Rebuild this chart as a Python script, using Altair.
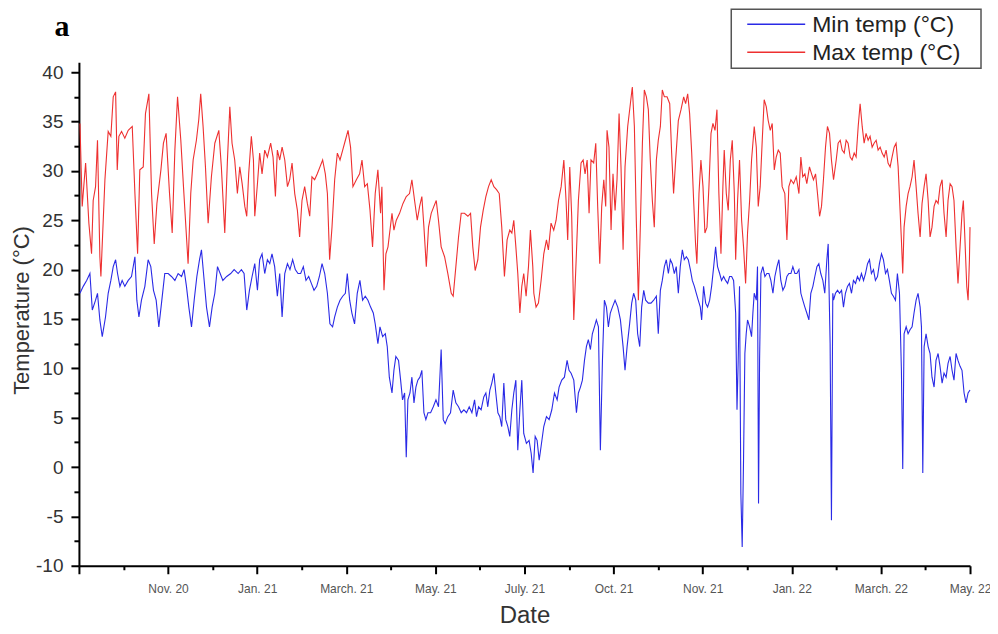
import altair as alt
import pandas as pd

# ---- data (day index 0..600, temperature in °C) ----
max_day = [0.7, 2.2, 4.5, 6.7, 8.5, 9.6, 11.2, 12.5, 14.1, 14.8, 17.5, 19.7, 21.5, 23.1, 24.7, 25.8, 26.9, 28.7, 30.9, 33.2,
           35.9, 37.7, 39.5, 41.0, 43.3, 44.8, 47.1, 48.9, 50.7, 52.5, 55.2, 56.9, 58.7, 61.0, 62.8, 64.6, 66.4, 68.6, 70.4, 73.5,
           75.3, 76.9, 79.1, 80.7, 82.0, 83.6, 85.2, 87.0, 89.2, 91.5, 94.2, 95.9, 98.2, 100.0, 101.6,
           103.1, 104.9, 106.7, 108.3, 109.9, 111.7, 113.0, 114.3, 116.1, 117.5, 118.4, 120.2, 121.7, 123.3, 125.1, 126.9, 129.1,
           130.7, 132.3, 133.6, 135.2, 136.8, 138.6, 140.4, 141.9, 143.5, 145.3, 147.1, 148.6, 150.2, 152.0, 153.8, 155.4, 156.9,
           158.7, 160.5, 162.3, 164.1, 165.9, 167.3, 168.8, 170.4, 172.2, 174.0, 175.8, 177.6, 179.4, 181.2, 182.9, 184.5, 186.8,
           189.0, 190.6, 192.4, 194.2, 196.0, 197.7, 199.5, 201.3,
           203.1, 204.0, 205.4, 206.7, 208.1, 209.2, 210.8, 212.1, 213.7, 215.9, 218.2, 220.4, 222.6, 224.2, 226.0, 227.8, 229.4,
           230.9, 232.3, 233.9, 235.4, 237.2, 239.0, 240.6, 242.1, 243.9, 246.2, 248.4, 250.7, 252.0, 253.8, 255.6, 257.4, 259.6,
           261.9, 263.7, 265.2, 266.8, 268.6, 270.4, 272.2, 274.0, 275.8, 277.6, 279.4, 281.2, 283.0, 284.7, 286.5, 288.3, 290.1,
           291.5, 292.8, 294.2, 295.5, 296.9, 298.2, 299.5, 301.1, 302.7, 304.0, 305.6,
           306.3, 307.8, 309.4, 311.2, 313.0, 314.8, 316.1, 317.9, 319.7, 321.3, 322.9, 324.7, 326.5, 328.0, 329.1, 330.5, 331.8,
           333.2, 334.8, 336.3, 338.1, 339.5, 340.8, 342.2, 343.5, 344.8, 346.6, 348.0, 349.3, 350.7, 352.0, 353.4, 354.7, 355.6,
           356.9, 358.3, 359.6, 361.0, 362.3, 363.7, 365.0, 366.4, 367.7, 369.5, 371.3, 372.6, 374.0, 375.3, 376.7, 378.0, 379.4,
           380.7, 382.1, 383.4, 384.7, 386.1, 387.4, 388.8, 390.1, 391.5, 392.8, 394.2, 396.0, 397.8, 399.1, 400.4, 401.8, 403.6,
           405.4,
           407.2, 408.5, 409.9, 411.2, 412.6, 413.9, 415.2, 416.1, 417.5, 418.8, 420.2, 421.5, 422.9, 424.2, 425.6, 426.9, 428.3,
           429.6, 430.9, 432.3, 433.6, 434.5, 435.9, 437.2, 438.6, 439.9, 441.3, 442.2, 443.5, 444.8, 446.2, 447.5, 448.9, 450.2,
           451.6, 452.9, 454.7, 456.1, 457.4, 458.7, 460.1, 461.4, 462.8, 464.1, 465.5, 466.8, 468.2, 469.5, 470.9, 472.2, 473.5,
           475.3, 476.7, 478.0, 479.4, 481.2, 483.0, 484.8, 486.1, 487.4, 488.8, 490.1, 491.9, 493.3, 494.6, 496.0, 497.3, 498.7,
           500.0, 501.3, 502.7, 504.0, 505.4, 506.7, 508.1,
           509.9, 511.2, 512.6, 513.9, 515.3, 516.6, 517.9, 519.3, 520.6, 522.0, 523.3, 524.7, 526.0, 527.4, 528.7, 530.0, 531.4,
           532.7, 534.1, 535.4, 536.8, 538.1, 539.5, 540.8, 542.2, 543.5, 544.8, 546.2, 547.5, 548.9, 550.2, 551.6, 552.9, 553.8,
           554.7, 555.6, 557.0, 558.3, 559.6, 561.0, 562.3, 563.7, 565.0, 566.4, 567.7, 569.1, 570.4, 571.8, 573.1, 574.4, 575.8,
           577.1, 578.5, 579.8, 581.2, 582.5, 583.9, 585.2, 586.6, 587.9, 589.2, 590.6, 591.9, 593.3, 594.6, 595.5, 596.4, 597.8,
           598.7, 599.6, 600.0]
max_temp = [34.8, 26.4, 30.8, 24.7, 21.6, 27.0, 28.4, 33.1, 21.3, 19.3, 29.1, 34.0, 33.5, 37.5, 38.0, 30.1, 33.5, 34.0, 33.3, 34.1,
            34.5, 27.7, 21.6, 30.1, 30.4, 35.8, 37.8, 27.7, 22.6, 26.7, 30.1, 32.8, 33.8, 27.7, 23.7, 32.1, 37.5, 33.1, 28.4, 20.6,
            27.7, 31.1, 33.1, 35.2, 37.8, 34.5, 30.4, 24.7, 29.4, 32.8, 34.1, 30.4, 23.7, 31.1, 36.5,
            32.8, 31.1, 27.7, 30.4, 28.7, 26.4, 25.4, 29.7, 33.5, 31.1, 25.4, 28.7, 31.8, 29.7, 32.1, 31.4, 32.8,
            31.4, 27.4, 32.1, 31.1, 32.4, 31.1, 28.4, 29.1, 30.8, 27.7, 26.0, 23.3, 27.0, 28.4, 26.7, 25.4, 29.4,
            29.1, 29.7, 30.4, 31.1, 29.7, 27.7, 21.0, 24.3, 29.1, 31.8, 31.1, 32.1, 33.1, 34.1, 32.4, 28.4, 29.1,
            29.7, 31.1, 28.4, 28.7, 26.0, 22.3, 27.7, 30.1,
            25.7, 28.4, 17.9, 21.6, 22.3, 23.7, 25.7, 24.0, 25.0, 25.7, 26.7, 27.4, 27.7, 29.1, 27.0, 25.0, 26.4,
            27.4, 24.3, 20.3, 24.3, 25.7, 26.4, 27.0, 25.0, 22.3, 21.3, 19.6, 17.6, 17.3, 20.3, 23.3, 25.7, 25.7,
            25.4, 25.7, 22.3, 19.9, 21.0, 24.3, 26.0, 27.4, 28.4, 29.1, 28.4, 28.1, 27.7, 24.3, 19.3, 23.0, 24.0,
            23.7, 25.0, 22.3, 19.6, 15.6, 18.3, 19.6, 17.3, 20.3, 24.0, 20.3,
            17.6, 16.2, 16.6, 18.9, 21.6, 23.0, 22.0, 24.7, 24.0, 25.0, 27.0, 28.4, 31.1, 27.0, 23.0, 30.4, 25.4,
            14.9, 21.0, 27.0, 30.8, 31.1, 29.7, 31.1, 25.7, 31.1, 30.8, 32.8, 26.4, 20.6, 26.4, 29.1, 26.4, 34.1,
            32.4, 24.0, 29.7, 26.0, 29.1, 35.8, 30.4, 22.0, 30.4, 34.5, 36.8, 38.5, 34.5, 25.0, 16.9, 24.3, 32.8,
            38.2, 37.5, 36.2, 31.1, 27.0, 24.3, 31.1, 33.1, 34.5, 38.2, 37.5, 37.5, 36.8, 31.8, 27.7, 31.1, 35.1,
            36.2,
            37.5, 36.8, 37.8, 35.8, 31.8, 27.0, 22.6, 20.6, 27.7, 31.1, 28.4, 23.7, 24.3, 28.4, 33.8, 34.8, 34.1,
            36.2, 27.7, 21.6, 28.4, 32.1, 27.7, 26.0, 31.1, 33.1, 27.7, 21.0, 27.0, 31.1, 25.0, 22.3, 18.6, 23.7,
            27.0, 31.1, 34.5, 32.4, 26.4, 28.4, 33.1, 37.2, 36.5, 35.1, 34.1, 34.8, 30.1, 31.4, 32.1, 31.8, 28.4,
            27.7, 23.0, 28.4, 29.1, 28.7, 29.4, 27.7, 31.4, 29.4, 29.7, 28.7, 30.4, 29.7, 29.1, 29.7, 27.7, 25.4,
            26.4, 29.1, 32.4, 34.5, 33.8, 31.1, 29.1,
            31.1, 32.8, 33.1, 32.1, 31.8, 33.1, 32.8, 31.4, 31.1, 31.8, 31.4, 34.5, 36.8, 34.5, 32.8, 33.8, 33.1,
            33.5, 32.4, 32.8, 33.1, 32.1, 32.4, 31.8, 31.4, 32.1, 30.8, 30.4, 31.4, 32.4, 32.8, 30.4, 26.0, 23.0,
            19.6, 24.3, 26.4, 27.7, 28.4, 29.4, 31.1, 28.4, 25.7, 23.3, 26.7, 28.4, 29.7, 27.0, 23.3, 24.3, 26.4,
            27.0, 26.7, 28.4, 29.1, 25.7, 23.3, 27.0, 28.7, 28.4, 27.0, 22.3, 18.6, 22.3, 25.7, 27.0, 23.7, 18.3,
            16.9, 21.0, 24.3]

min_day = [0.7, 2.9, 5.2, 7.4, 9.0, 11.2, 12.5, 14.1, 15.7, 17.9, 19.7, 21.5, 23.1, 24.7, 26.0, 27.6, 29.1, 30.9, 33.2, 35.4,
           37.7, 39.0, 40.4, 42.1, 44.4, 46.6, 48.4, 50.2, 52.0, 53.8, 55.6, 57.8, 60.1, 62.3, 64.6, 66.8, 69.1, 70.8, 72.4, 74.0,
           75.8, 77.6, 79.4, 81.2, 82.5, 83.9, 85.9, 87.9, 89.7, 91.5, 93.3, 95.1, 96.9, 99.5, 102.2, 104.5,
           107.2, 109.4, 111.2, 113.0, 114.8, 116.6, 118.4, 120.2, 121.7, 123.3, 125.1, 126.9, 128.5, 130.0, 131.8, 133.6, 135.2,
           136.8, 138.6, 140.4, 142.1, 143.9, 145.7, 147.5, 149.3, 151.1, 152.9, 154.7, 156.5, 158.3, 160.1, 161.9, 163.7, 165.5,
           167.3, 169.0, 170.8, 172.2, 174.0, 175.8, 177.6, 179.4, 180.7, 182.3, 183.8, 185.6, 187.4, 189.2, 191.0, 192.8, 194.6,
           196.4, 198.2, 199.5, 201.3, 202.7, 204.5,
           206.3, 207.6, 209.0, 210.8, 212.1, 213.4, 215.2, 216.6, 217.9, 219.3, 220.4, 221.5, 222.9, 224.2, 225.6, 226.9, 228.2,
           229.6, 230.9, 232.3, 233.6, 235.0, 236.8, 238.6, 240.4, 242.1, 243.9, 245.3, 246.6, 248.4, 250.2, 252.0, 253.8, 255.6,
           257.4, 259.2, 261.0, 262.8, 264.6, 266.4, 267.7, 269.1, 270.8, 272.6, 274.0, 275.3, 276.7, 278.0, 279.4, 280.7, 282.1,
           283.4, 284.7, 286.1, 287.4, 288.8, 290.1, 291.5, 292.8, 294.2, 295.5, 296.9, 298.2, 299.5, 301.3, 303.1, 304.5, 305.8,
           307.2, 308.5, 309.9, 311.2, 313.0, 314.8, 316.6, 318.4, 320.2, 322.0, 323.3, 325.1, 326.9, 328.7, 330.0, 331.4, 333.2,
           335.0, 336.3, 337.7, 339.0, 340.4, 341.7, 343.0, 344.4, 345.7, 347.1, 348.4, 349.8, 351.1, 352.5, 353.8, 355.2, 356.5,
           357.8, 359.2, 361.0, 362.8, 364.6, 366.4, 367.7, 369.1, 370.8, 372.2, 373.5, 374.9, 376.2, 377.6, 378.9, 380.3, 381.6,
           383.4, 385.2, 387.0, 388.8, 390.1, 391.5, 392.8, 394.2, 395.5, 396.9, 398.2, 399.5, 400.9, 402.2, 403.6, 404.9,
           406.3, 407.6, 409.0, 410.3, 411.7, 413.0, 414.4, 415.7, 417.0, 418.4, 419.3, 420.6, 422.0, 423.3, 424.7, 426.0, 427.4,
           428.7, 430.0, 431.4, 432.7, 434.1, 435.4, 436.8, 438.1, 439.5, 440.8, 442.2, 443.1, 443.9, 444.8, 445.7, 446.6, 447.5,
           448.4, 449.3, 450.2, 451.6, 452.9, 453.8, 454.7, 456.1, 456.9, 457.6, 458.3, 459.2, 460.5, 461.9, 463.2, 464.6, 465.9,
           467.3, 468.6, 470.0, 471.3, 472.6, 474.0, 475.3, 476.7, 478.0, 479.4, 480.7, 482.1, 483.4, 484.8, 486.1, 487.4, 488.8,
           490.1, 491.5, 492.8, 494.2, 495.5, 496.9, 498.2, 499.5, 500.9, 502.2, 503.6, 504.5, 505.8, 506.7, 507.6,
           508.1, 509.4, 510.8, 512.1, 513.5, 514.8, 516.1, 517.5, 518.8, 520.2, 521.5, 522.9, 524.2, 525.6, 526.9, 528.3, 529.6,
           531.0, 532.3, 533.6, 535.0, 536.3, 537.7, 539.0, 540.4, 541.7, 543.1, 544.4, 545.7, 547.1, 548.4, 549.8, 551.1, 552.5,
           553.8, 554.7, 555.6, 557.0, 558.3, 559.6, 561.0, 562.3, 563.7, 565.0, 566.4, 567.3, 568.2, 569.1, 570.4, 571.8, 573.1,
           574.4, 575.8, 577.1, 578.5, 579.8, 581.2, 582.5, 583.9, 585.2, 586.6, 587.9, 589.2, 590.6, 591.9, 593.3, 594.6, 596.0,
           597.3, 598.7, 600.0]
min_temp = [17.6, 18.3, 18.9, 19.6, 15.9, 16.9, 17.6, 14.9, 13.2, 15.2, 17.6, 18.9, 20.3, 21.0, 19.6, 18.3, 18.9, 18.3, 18.9, 19.3,
            21.3, 16.9, 15.2, 16.9, 18.3, 21.0, 20.3, 17.9, 16.9, 14.2, 16.6, 19.6, 19.6, 19.3, 18.9, 19.6, 19.3, 20.0, 18.3, 16.2,
            14.2, 16.9, 19.3, 21.0, 22.0, 19.6, 16.2, 14.2, 16.2, 17.6, 20.3, 19.6, 18.9, 19.3, 19.6, 20.0,
            19.6, 20.0, 19.6, 15.9, 17.9, 19.3, 20.6, 17.9, 21.0, 21.6, 19.6, 21.0, 20.6, 21.6, 20.3, 17.3, 19.6,
            15.2, 19.6, 20.6, 20.0, 21.0, 20.0, 19.6, 19.6, 20.3, 18.9, 19.3, 18.6, 17.9, 18.3, 19.3, 20.6, 19.6,
            17.6, 14.5, 14.2, 15.2, 16.2, 16.9, 17.3, 17.6, 19.6, 16.9, 15.6, 14.5, 17.6, 18.9, 16.9, 17.3, 16.9,
            16.2, 15.6, 14.5, 12.5, 14.2, 13.2,
            13.5, 12.2, 9.1, 7.5, 9.8, 11.2, 10.8, 8.8, 6.8, 7.5, 1.0, 6.8, 7.5, 9.1, 6.5, 8.1, 8.8,
            9.1, 9.8, 5.5, 4.8, 5.5, 5.5, 6.1, 6.8, 6.1, 11.9, 4.8, 4.4, 5.1, 5.5, 7.8, 6.5, 6.1,
            5.5, 5.8, 5.5, 6.1, 5.5, 6.8, 5.1, 6.1, 5.8, 7.1, 7.5, 6.1, 7.8, 8.5, 9.5, 7.5, 5.5,
            5.1, 4.1, 8.5, 4.8, 4.1, 3.1, 5.8, 7.5, 8.8, 1.7, 5.8, 8.8, 3.4, 2.4, 2.7, 1.4, -0.6,
            3.1, 2.7, 0.7, 2.1, 4.1, 5.1, 4.8, 5.8, 7.5, 6.8, 8.1, 8.8, 9.1, 10.8, 9.8, 9.5, 8.8,
            5.5, 7.5, 8.1, 8.8, 10.8, 12.2, 12.9, 11.9, 13.5, 14.2, 14.9, 14.2, 1.7, 10.8, 16.9, 16.2, 14.2,
            15.6, 16.2, 16.9, 16.2, 14.9, 12.2, 9.8, 12.2, 14.5, 16.6, 17.6, 16.9, 13.5, 12.2, 16.2, 17.9, 16.9,
            16.6, 16.6, 16.9, 17.3, 13.5, 17.9, 18.9, 20.3, 21.0, 19.6, 21.0, 20.6, 19.6, 20.3, 17.6, 20.3,
            22.0, 21.0, 21.3, 21.0, 20.0, 18.9, 18.3, 17.6, 16.9, 16.2, 14.9, 18.3, 16.6, 16.2, 16.9, 18.3, 20.3,
            22.3, 20.3, 19.6, 18.9, 19.3, 18.9, 18.6, 19.3, 19.3, 18.9, 15.6, 5.8, 10.8, 18.3, -2.7, -8.1, 0.7,
            11.5, 13.5, 14.9, 14.2, 13.2, 15.6, 17.6, 16.9, 20.3, -3.7, 10.8, 19.6, 20.3, 19.3, 19.6, 19.6, 18.9,
            17.6, 19.3, 20.3, 21.0, 18.9, 17.9, 18.3, 19.3, 19.6, 19.6, 20.3, 19.6, 19.6, 20.0, 17.6, 16.9, 16.2,
            15.6, 14.9, 17.6, 18.3, 19.3, 20.3, 20.6, 19.6, 18.9, 17.6, 21.0, 22.6, 12.5, -5.4, 17.6,
            16.9, 17.6, 17.9, 17.6, 17.9, 16.2, 17.6, 18.3, 18.6, 17.6, 18.9, 18.6, 19.3, 18.9, 19.6, 18.9, 19.6,
            20.6, 21.0, 19.6, 20.0, 18.9, 19.3, 20.6, 21.6, 21.0, 19.6, 20.0, 18.9, 17.6, 17.3, 16.9, 19.6, 17.6,
            9.8, -0.2, 13.5, 14.2, 13.5, 13.9, 14.2, 15.6, 16.9, 17.6, 16.2, 14.2, -0.6, 12.2, 13.5, 12.2, 11.5,
            9.1, 8.1, 10.8, 11.5, 10.2, 8.5, 9.5, 9.1, 10.5, 11.2, 9.8, 8.8, 11.5, 10.8, 10.2, 9.8, 7.5,
            6.5, 7.5, 7.8]

series_names = ["Min temp (°C)", "Max temp (°C)"]
series_colors = ["#2a2ae6", "#ee3030"]
x_tick_labels = ["", "Nov. 20", "Jan. 21", "March. 21", "May. 21", "July. 21",
                 "Oct. 21", "Nov. 21", "Jan. 22", "March. 22", "May. 22"]
x_tick_values = list(range(0, 601, 30))
y_tick_values = [v / 2 for v in range(-20, 81, 5)]

df = pd.concat([
    pd.DataFrame({"day": min_day, "temp": min_temp, "series": series_names[0]}),
    pd.DataFrame({"day": max_day, "temp": max_temp, "series": series_names[1]}),
])

FONT = "Liberation Sans"
arr = "[" + ",".join("'" + s + "'" for s in x_tick_labels) + "]"
x_label_expr = f"datum.value % 60 === 0 ? {arr}[datum.value / 60] : ''"

x_axis = alt.Axis(
    values=x_tick_values, labelExpr=x_label_expr, title="Date", grid=False,
    domainColor="black", domainWidth=2, tickColor="black", tickWidth=2,
    tickSize={"condition": {"test": "datum.value % 60 === 0", "value": 8}, "value": 4},
    labelFont=FONT, labelFontSize=12, labelColor="#555", labelPadding=10,
    labelFlush=False, labelOverlap=False,
    titleFont=FONT, titleFontSize=24, titleFontWeight="normal", titleColor="#333",
    titleY=50, titleBaseline="middle",
)
y_axis = alt.Axis(
    values=y_tick_values, labelExpr="datum.value % 5 === 0 ? '' + datum.value : ''",
    title="Temperature (°C)", grid=False,
    domainColor="black", domainWidth=2, tickColor="black", tickWidth=2,
    tickSize={"condition": {"test": "datum.value % 5 === 0", "value": 8}, "value": 5},
    labelFont=FONT, labelFontSize=19, labelColor="#333", labelPadding=8,
    labelFlush=False, labelOverlap=False,
    titleFont=FONT, titleFontSize=22, titleFontWeight="normal", titleColor="#333",
    titleX=-57, titleY=248, titleAngle=270, titleAlign="center", titleBaseline="middle",
)

lines = alt.Chart(df).mark_line(strokeWidth=1.1, clip=False).encode(
    x=alt.X("day:Q", scale=alt.Scale(domain=[0, 600], nice=False, zero=False), axis=x_axis),
    y=alt.Y("temp:Q", scale=alt.Scale(domain=[-10, 41], nice=False, zero=False), axis=y_axis),
    color=alt.Color("series:N", scale=alt.Scale(domain=series_names, range=series_colors), legend=None),
)

one = pd.DataFrame({"k": [0]})
legend_box = alt.Chart(one).mark_rect(fill="white", stroke="#555", strokeWidth=1.5).encode(
    x=alt.value(653), x2=alt.value(903), y=alt.value(-53), y2=alt.value(6)
)
legend_layers = [legend_box]
for i, (name, col) in enumerate(zip(series_names, series_colors)):
    ly = -38 + 28 * i
    legend_layers.append(
        alt.Chart(one).mark_rule(color=col, strokeWidth=1.5).encode(
            x=alt.value(669), x2=alt.value(727), y=alt.value(ly)
        )
    )
    legend_layers.append(
        alt.Chart(one).mark_text(align="left", baseline="middle", font=FONT, fontSize=23,
                                 color="#222").encode(
            x=alt.value(734), y=alt.value(ly + 1), text=alt.value(name)
        )
    )

panel_letter = alt.Chart(one).mark_text(
    align="center", baseline="alphabetic", font="Liberation Serif", fontWeight="bold",
    fontSize=30, color="black"
).encode(x=alt.value(-17), y=alt.value(-26), text=alt.value("a"))

chart = alt.layer(lines, *legend_layers, panel_letter).properties(
    width=892, height=504,
    autosize=alt.AutoSizeParams(type="none"),
    padding={"left": 71, "top": 54, "right": 20, "bottom": 64},
).configure_view(stroke=None)

chart.save("out.html", embed_options={"renderer": "svg", "actions": False})
